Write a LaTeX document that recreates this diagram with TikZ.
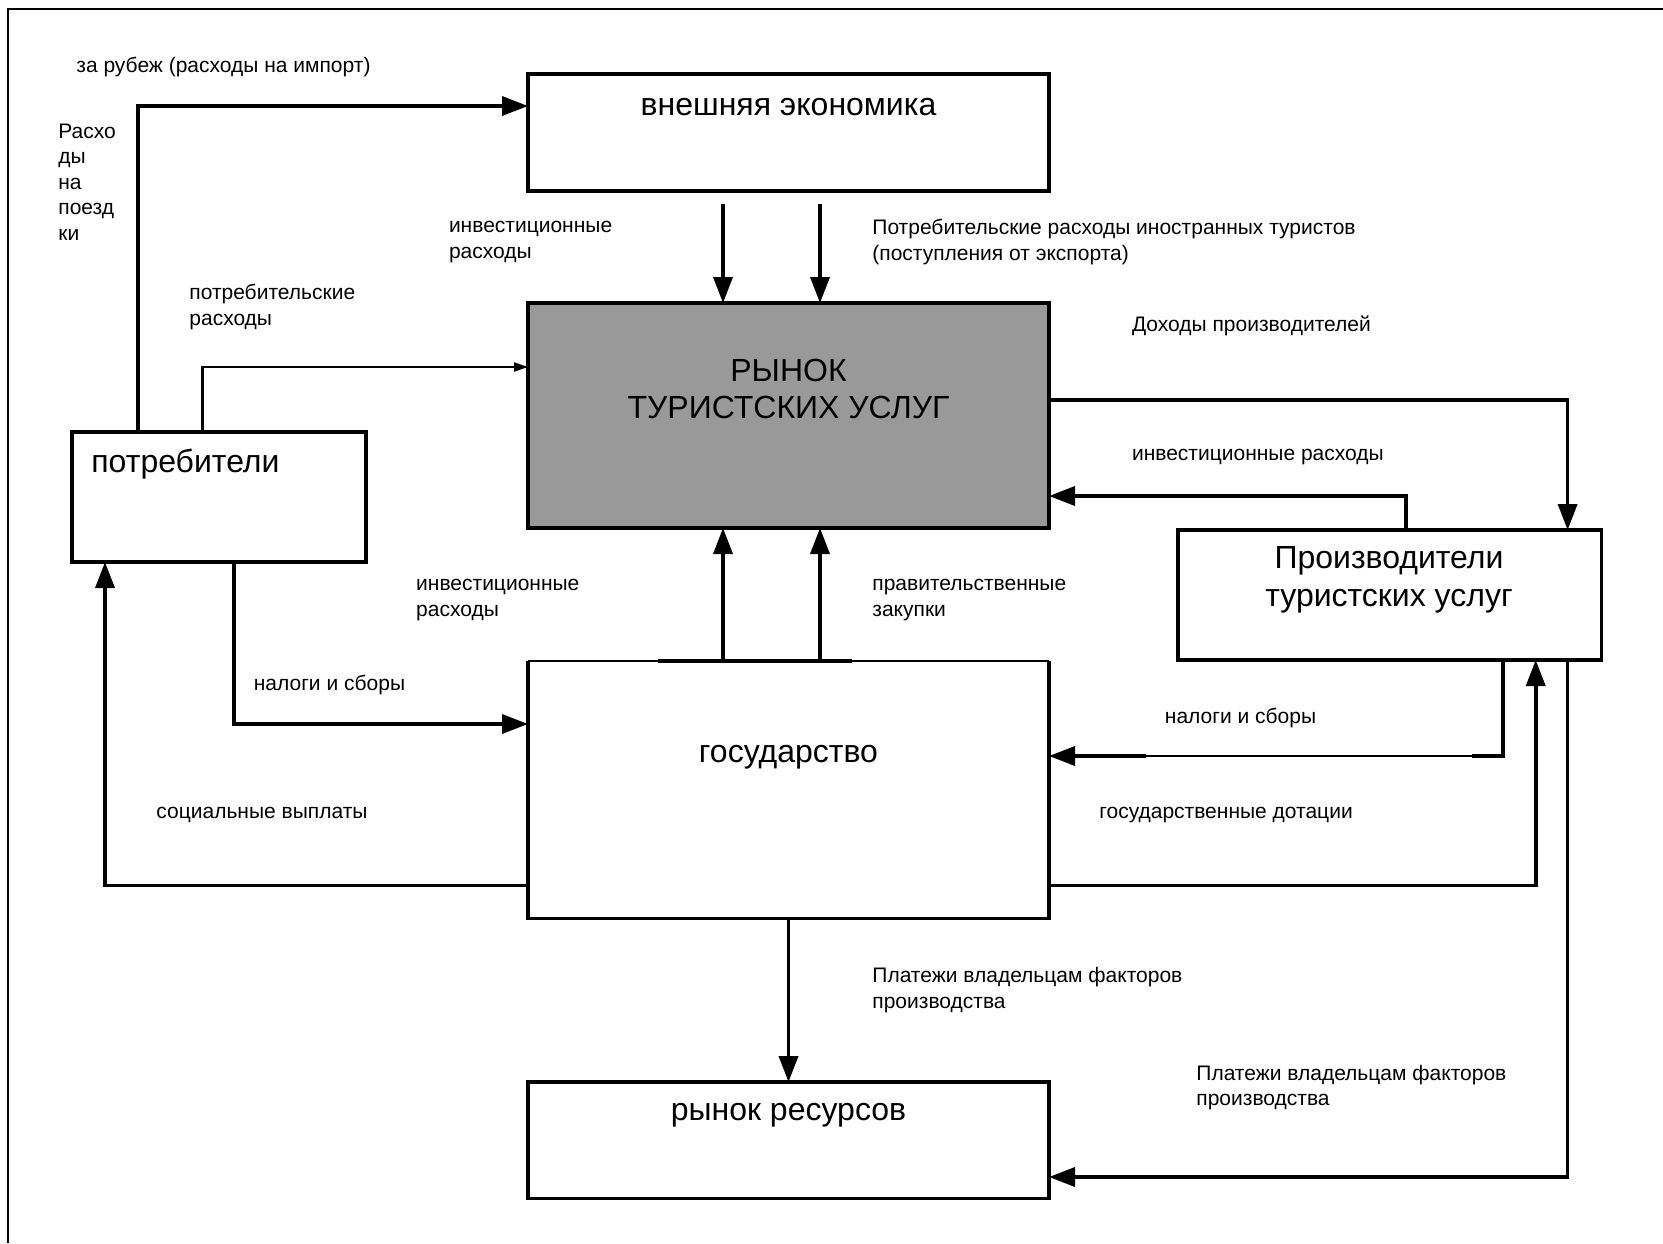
\documentclass[tikz,border=0pt]{standalone}
\usepackage{fontspec}
\setmainfont{Liberation Sans}
\usetikzlibrary{arrows.meta}
\usetikzlibrary{calc}
\definecolor{mktgray}{RGB}{153,153,153}

\begin{document}
\begin{tikzpicture}[x=0.5pt,y=-0.5pt,
    box/.style={draw,line width=1.9pt,inner sep=0pt,outer sep=0pt},
    title/.style={font=\fontsize{16}{18.8}\selectfont,align=center,inner sep=0pt},
    lbl/.style={font=\fontsize{10.5}{12.8}\selectfont,align=left,anchor=west,inner sep=0pt},
    flow/.style={line width=1.8pt,-{Triangle[length=13pt,width=9.5pt]}},
    thinflow/.style={line width=1.1pt,-{Triangle[length=7pt,width=4.5pt]}},
    bar/.style={line width=1.8pt}]
        \useasboundingbox (0,0) rectangle (1663,1243);
        \draw[line width=1pt] (7.5,1243) -- (7.5,9) -- (1663,9);

        % boxes
        \node[box,minimum width=260.5pt,minimum height=58.5pt] (ext) at (788.5,132.5) {};
        \node[box,fill=mktgray,minimum width=260.5pt,minimum height=112.5pt] (mkt) at (788.5,415.5) {};
        \node[box,minimum width=147pt,minimum height=65pt] (cons) at (219,497) {};
        \node[box,minimum width=211.75pt,minimum height=65pt] (prod) at (1389.75,595) {};
        \node[minimum width=260.5pt,minimum height=128.75pt,inner sep=0pt,outer sep=0pt] (gov) at (788.5,789.75) {};
        \draw[line width=1.9pt] (gov.north west) -- (gov.south west) -- (gov.south east) -- (gov.north east);
        \draw[line width=1pt] (gov.north west) -- (gov.north east);
        \node[box,minimum width=260.5pt,minimum height=58.25pt] (res) at (788.5,1140.25) {};

        \node[title] (extT) at (788.5,107) {внешняя экономика};
        \node[title] (mktT) at (788.5,389) {РЫНОК\\ТУРИСТСКИХ УСЛУГ};
        \node[title,anchor=west] (consT) at (91,464) {потребители};
        \node[title] (prodT) at (1389,580) {Производители\\туристских услуг};
        \node[title] (govT) at (788.5,757) {государство};
        \node[title] (resT) at (788.5,1115) {рынок ресурсов};

        % bends
        \coordinate (c1) at (138,106);
        \coordinate (c2) at (202.5,367);
        \coordinate (a1) at (723,204);
        \coordinate (a2) at (820,204);
        \coordinate (s1) at (691.5,0);
        \coordinate (s2) at (851.5,0);
        \coordinate (s3) at (657.6,0);
        \coordinate (c5) at (1567.6,400);
        \coordinate (c6) at (1406,496);
        \coordinate (c7) at (234,724);
        \coordinate (c8) at (105,885.6);
        \coordinate (c9) at (1503,756);
        \coordinate (t1) at (1472,756);
        \coordinate (t2) at (1145.5,756);
        \coordinate (c10) at (1535.7,885.6);
        \coordinate (c11) at (1567.6,1177);

        \draw[flow] (cons.north -| c1) -- (c1) -- (c1 -| ext.west);
        \draw[thinflow] (cons.north -| c2) |- (c2 -| mkt.west);
        \draw[flow] (a1) -- (a1 |- mkt.north);
        \draw[flow] (a2) -- (a2 |- mkt.north);
        \draw[bar] (s1 |- mkt.north) -- (s2 |- mkt.north);
        \draw[flow] (a1 |- gov.north) -- (a1 |- mkt.south);
        \draw[flow] (a2 |- gov.north) -- (a2 |- mkt.south);
        \draw[bar] (s3 |- gov.north) -- (s2 |- gov.north);
        \draw[flow] (c5 -| mkt.east) -| (c5 |- prod.north);
        \draw[flow] (c6 |- prod.north) |- (c6 -| mkt.east);
        \draw[flow] (c7 |- cons.south) |- (c7 -| gov.west);
        \draw[flow] (c8 -| gov.west) -| (c8 |- cons.south);
        \draw[bar] (c9 |- prod.south) -- (c9) -- (t1);
        \draw[line width=1pt] (t1) -- (t2);
        \draw[flow] (t2) -- (t2 -| gov.east);
        \draw[flow] (c10 -| gov.east) -| (c10 |- prod.south);
        \draw[flow] (c11 |- prod.south) |- (c11 -| res.east);
        \draw[flow] (gov.south) -- (res.north);

        % labels
        \node[lbl] (l1) at (76,67) {за рубеж (расходы на импорт)};
        \node[lbl] (l2) at (58,182) {Расхо\\ды\\на\\поезд\\ки};
        \node[lbl] (l3) at (448.6,242) {инвестиционные\\расходы};
        \node[lbl] (l4) at (872,242) {Потребительские расходы иностранных туристов\\(поступления от экспорта)};
        \node[lbl] (l5) at (189,307) {потребительские\\расходы};
        \node[lbl] (l6) at (1131.6,325.5) {Доходы производителей};
        \node[lbl] (l7) at (1131.6,457) {инвестиционные расходы};
        \node[lbl] (l8) at (415.8,600) {инвестиционные\\расходы};
        \node[lbl] (l9) at (872,600) {правительственные\\закупки};
        \node[lbl] (l10) at (253.5,684.5) {налоги и сборы};
        \node[lbl] (l11) at (1164.5,717.5) {налоги и сборы};
        \node[lbl] (l12) at (156,815) {социальные выплаты};
        \node[lbl] (l13) at (1099,815) {государственные дотации};
        \node[lbl] (l14) at (872,990) {Платежи владельцам факторов\\производства};
        \node[lbl] (l15) at (1196,1087.5) {Платежи владельцам факторов\\производства};
\end{tikzpicture}
\end{document}
